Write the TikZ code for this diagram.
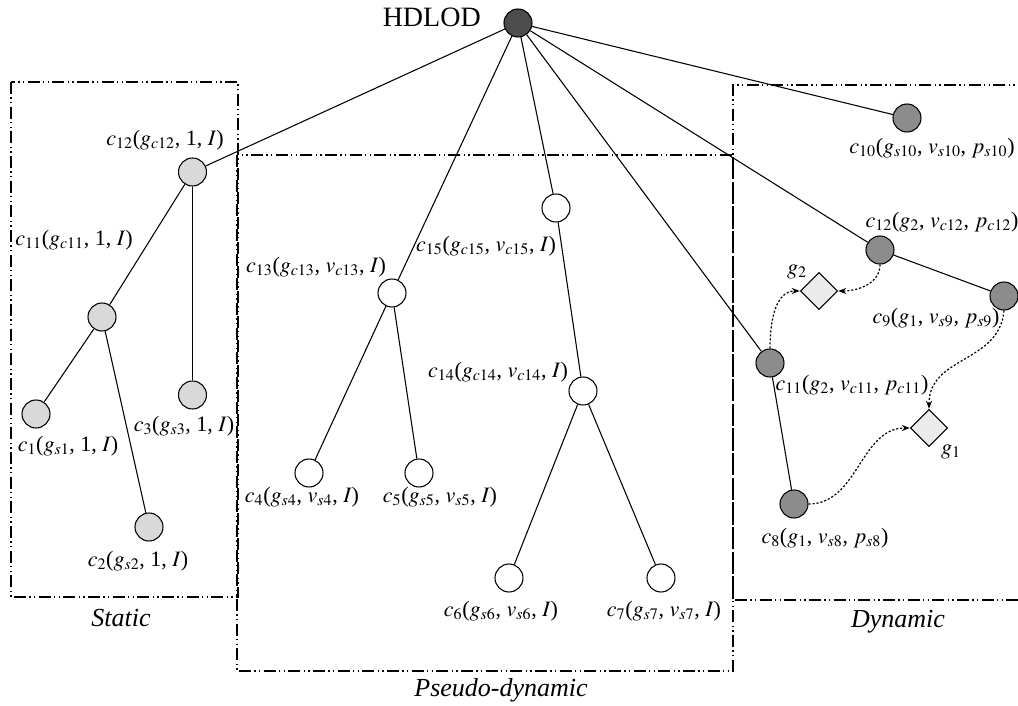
\documentclass[tikz,border=0pt]{standalone}
\usepackage{mathptmx}
\usepackage{fontspec}
\setmainfont{Liberation Serif}
\DeclareMathSizes{16.5}{16.5}{12}{10}
\usetikzlibrary{arrows.meta,shapes.geometric}
\definecolor{rootgray}{RGB}{77,77,77}
\definecolor{statgray}{RGB}{217,217,217}
\definecolor{dyngray}{RGB}{140,140,140}
\definecolor{gemgray}{RGB}{235,235,235}
\tikzset{
  nd/.style={circle, draw, line width=0.8pt, minimum size=21pt, inner sep=0pt},
  stat/.style={nd, fill=statgray},
  pseu/.style={nd, fill=white},
  dyn/.style={nd, fill=dyngray},
  rootn/.style={nd, fill=rootgray},
  gem/.style={diamond, draw, line width=0.8pt, fill=gemgray, minimum width=28pt, minimum height=28pt, inner sep=0pt},
  lab/.style={inner sep=0pt, font=\fontsize{16.5}{19}\selectfont},
  itlab/.style={inner sep=0pt, font=\fontsize{19.5}{22}\selectfont\itshape},
  titlelab/.style={inner sep=0pt, font=\fontsize{21}{24}\selectfont},
  boxline/.style={line width=0.8pt, dash pattern=on 9pt off 2.5pt on 1pt off 2.5pt on 1pt off 2.5pt},
  link/.style={line width=0.8pt},
  dep/.style={line width=0.9pt, dash pattern=on 1.6pt off 1.4pt, -{Stealth[length=6pt,width=4.5pt]}}
}
\begin{document}
\begin{tikzpicture}[x=0.75pt,y=-0.75pt]
\useasboundingbox (0,0) rectangle (1018,706);
% boxes
\draw[boxline] (11,82) rectangle (238,597);
\draw[boxline] (237,155) rectangle (733,671);
\draw[boxline] (1030,85) -- (733,85) -- (733,600) -- (1030,600);
\node[itlab] (tstatic) at (121,618) {Static};
\node[itlab] (tpseudo) at (501,690) {Pseudo-dynamic};
\node[itlab] (tdyn) at (898,622) {Dynamic};
% root
\node[rootn] (root) at (518,23) {};
\node[titlelab, anchor=east] (troot) at (481,17) {HDLOD};
% static
\node[stat] (s12) at (192.5,172) {};
\node[stat] (s11) at (102,317) {};
\node[stat] (s1) at (36,414) {};
\node[stat] (s3) at (192.5,395) {};
\node[stat] (s2) at (149,527) {};
\node[lab] (ts12) at (165,140) {$c_{12}$($g_{c12}$, 1, $I$)};
\node[lab] (ts11) at (74,240) {$c_{11}$($g_{c11}$, 1, $I$)};
\node[lab] (ts1) at (68,446) {$c_{1}$($g_{s1}$, 1, $I$)};
\node[lab] (ts3) at (184,426) {$c_{3}$($g_{s3}$, 1, $I$)};
\node[lab] (ts2) at (138,561) {$c_{2}$($g_{s2}$, 1, $I$)};
% pseudo-dynamic
\node[pseu] (p13) at (392,293) {};
\node[pseu] (p15) at (556,208) {};
\node[pseu] (p14) at (583,391) {};
\node[pseu] (p4) at (309,473) {};
\node[pseu] (p5) at (419,473) {};
\node[pseu] (p6) at (509,578) {};
\node[pseu] (p7) at (661,578) {};
\node[lab] (tp13) at (316,267) {$c_{13}$($g_{c13}$, $v_{c13}$, $I$)};
\node[lab] (tp15) at (486,246) {$c_{15}$($g_{c15}$, $v_{c15}$, $I$)};
\node[lab] (tp14) at (498,372) {$c_{14}$($g_{c14}$, $v_{c14}$, $I$)};
\node[lab] (tp4) at (302,497) {$c_{4}$($g_{s4}$, $v_{s4}$, $I$)};
\node[lab] (tp5) at (440,497) {$c_{5}$($g_{s5}$, $v_{s5}$, $I$)};
\node[lab] (tp6) at (501,611) {$c_{6}$($g_{s6}$, $v_{s6}$, $I$)};
\node[lab] (tp7) at (664,611) {$c_{7}$($g_{s7}$, $v_{s7}$, $I$)};
% dynamic
\node[dyn] (d10) at (907,118) {};
\node[dyn] (d12) at (880,250) {};
\node[dyn] (d9) at (1004,296) {};
\node[dyn] (d11) at (770,363) {};
\node[dyn] (d8) at (794,504) {};
\node[gem] (g2) at (819,291) {};
\node[gem] (g1) at (929,428) {};
\node[lab] (td10) at (932,148) {$c_{10}$($g_{s10}$, $v_{s10}$, $p_{s10}$)};
\node[lab] (td12) at (942,222) {$c_{12}$($g_{2}$, $v_{c12}$, $p_{c12}$)};
\node[lab] (td9) at (936,318) {$c_{9}$($g_{1}$, $v_{s9}$, $p_{s9}$)};
\node[lab] (td11) at (852,385) {$c_{11}$($g_{2}$, $v_{c11}$, $p_{c11}$)};
\node[lab] (td8) at (825,538) {$c_{8}$($g_{1}$, $v_{s8}$, $p_{s8}$)};
\node[lab] (tg2) at (797,272) {$g_{2}$};
\node[lab] (tg1) at (951,452) {$g_{1}$};
% tree links
\draw[link] (root) -- (s12);
\draw[link] (s12) -- (s11);
\draw[link] (s12) -- (s3);
\draw[link] (s11) -- (s1);
\draw[link] (s11) -- (s2);
\draw[link] (root) -- (p13);
\draw[link] (p13) -- (p4);
\draw[link] (p13) -- (p5);
\draw[link] (root) -- (p15);
\draw[link] (p15) -- (p14);
\draw[link] (p14) -- (p6);
\draw[link] (p14) -- (p7);
\draw[link] (root) -- (d10);
\draw[link] (root) -- (d12);
\draw[link] (d12) -- (d9);
\draw[link] (root) -- (d11);
\draw[link] (d11) -- (d8);
% dependencies
\draw[dep] (d12.south) to[out=-90, in=0] (g2.east);
\draw[dep] (d11.north) to[out=90, in=180] (g2.west);
\draw[dep] (d9.south) to[out=-95, in=90, looseness=1.1] (g1.north);
\draw[dep] (d8.east) to[out=0, in=180] (g1.west);
\end{tikzpicture}
\end{document}
